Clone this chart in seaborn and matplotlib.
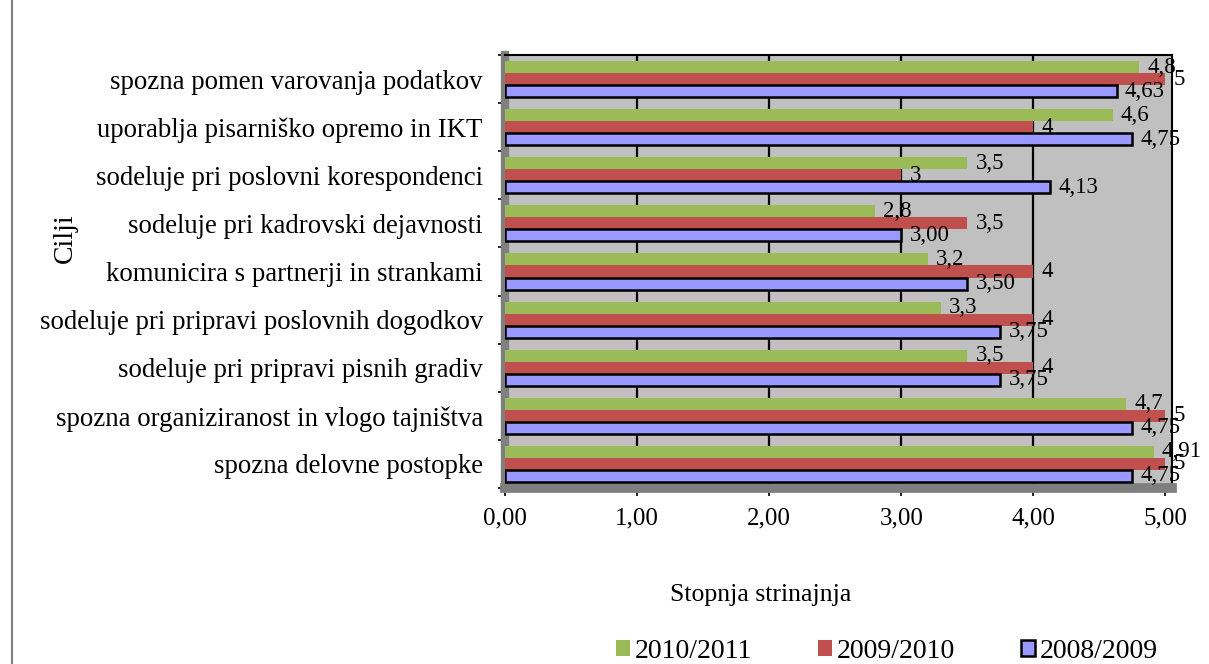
import matplotlib
matplotlib.use("Agg")
import matplotlib.pyplot as plt
from matplotlib.lines import Line2D
from matplotlib.ticker import FixedLocator
import pandas as pd
import seaborn as sns

# goals (top to bottom) and agreement levels per school year
cilji = [
    "spozna pomen varovanja podatkov",
    "uporablja pisarniško opremo in IKT",
    "sodeluje pri poslovni korespondenci",
    "sodeluje pri kadrovski dejavnosti",
    "komunicira s partnerji in strankami",
    "sodeluje pri pripravi poslovnih dogodkov",
    "sodeluje pri pripravi pisnih gradiv",
    "spozna organiziranost in vlogo tajništva",
    "spozna delovne postopke",
]
leta = ["2010/2011", "2009/2010", "2008/2009"]
v_2010_2011 = [4.8, 4.6, 3.5, 2.8, 3.2, 3.3, 3.5, 4.7, 4.91]
v_2009_2010 = [5, 4, 3, 3.5, 4, 4, 4, 5, 5]
v_2008_2009 = [4.63, 4.75, 4.13, 3.00, 3.50, 3.75, 3.75, 4.75, 4.75]
x_ticks = [0, 1, 2, 3, 4, 5]

barve = ["#9BBB59", "#C0504D", "#9999FF"]

df = pd.DataFrame({
    "cilj": cilji * 3,
    "leto": [leta[0]] * 9 + [leta[1]] * 9 + [leta[2]] * 9,
    "vrednost": v_2010_2011 + v_2009_2010 + v_2008_2009,
})

sns.set_style("white")
plt.rcParams["font.family"] = ["Liberation Serif", "DejaVu Serif"]
for k in ["text.color", "axes.labelcolor", "xtick.color", "ytick.color"]:
    plt.rcParams[k] = "black"

fig = plt.figure(figsize=(12.09, 6.64), dpi=100)
ax = fig.add_axes([505 / 1209, 1 - 488 / 664, 667 / 1209, 433 / 664])

sns.barplot(data=df, x="vrednost", y="cilj", hue="leto", hue_order=leta,
            order=cilji, orient="h", palette=barve, saturation=1, width=0.75,
            ax=ax, zorder=3)

ax.set_facecolor("#C0C0C0")
ax.set_xlim(0, 5.05)
ax.set_ylim(8.5, -0.5)

# bar edges, blue series gets the dark outline
for cont, leto in zip(ax.containers, leta):
    for bar in cont:
        if leto == "2008/2009":
            bar.set_edgecolor("black")
            bar.set_linewidth(1.8)
        else:
            bar.set_edgecolor("none")

# data labels with decimal comma
fmts = ["{:g}", "{:g}", "{:.2f}"]
serije = [v_2010_2011, v_2009_2010, v_2008_2009]
for cont, fmt, vals in zip(ax.containers, fmts, serije):
    ax.bar_label(cont, labels=[fmt.format(v).replace(".", ",") for v in vals],
                 padding=6, fontsize=16.5, zorder=5)

ax.set_xticks(x_ticks)
ax.set_xticklabels([f"{t:.2f}".replace(".", ",") for t in x_ticks], fontsize=18)
ax.tick_params(axis="x", length=6, width=1.2, color="black", pad=8, bottom=True)
ax.tick_params(axis="y", which="major", length=0, pad=16, labelsize=19.3)
ax.yaxis.set_minor_locator(FixedLocator([i - 0.5 for i in range(len(cilji) + 1)]))
ax.tick_params(axis="y", which="minor", length=5, width=1.2, color="black", left=True)

# gridlines on the back wall (the one at 5 is covered by the wall edge)
ax.xaxis.grid(True, color="black", linewidth=1.6)
ax.set_axisbelow(True)
ax.get_xgridlines()[-1].set_visible(False)

for side in ["top", "right"]:
    ax.spines[side].set_color("black")
    ax.spines[side].set_linewidth(1.5)
ax.spines["left"].set_color("#7F7F7F")
ax.spines["left"].set_linewidth(6)
ax.spines["bottom"].set_color("#7F7F7F")
ax.spines["bottom"].set_linewidth(7)

ax.set_xlabel("Stopnja strinajnja", fontsize=18.5)
ax.xaxis.set_label_coords((761 - 505) / 667, -0.222)
ax.set_ylabel("Cilji", fontsize=20)
ax.yaxis.set_label_coords(-(505 - 78) / 667, 0.577)

handles, labels = ax.get_legend_handles_labels()
leg = ax.legend(handles, labels, loc="center", bbox_to_anchor=(887 / 1209, 1 - 651 / 664),
                bbox_transform=fig.transFigure, ncol=3, frameon=False, fontsize=20,
                handlelength=0.5, handleheight=0.5, handletextpad=0.15,
                columnspacing=2.4)
for h, leto in zip(leg.legend_handles, leta):
    if leto == "2008/2009":
        h.set_edgecolor("black")
        h.set_linewidth(1.8)
    else:
        h.set_edgecolor("none")

# page border on the left
fig.add_artist(Line2D([12 / 1209, 12 / 1209], [0, 1], color="#7F7F7F", linewidth=1.5))

fig.savefig("out.png", dpi=100)
